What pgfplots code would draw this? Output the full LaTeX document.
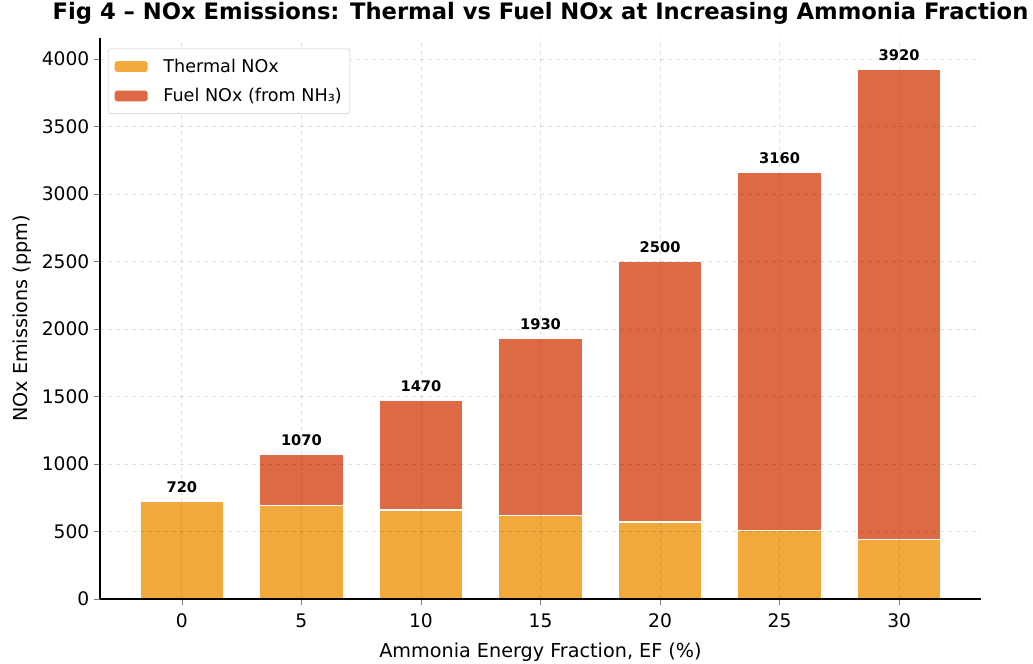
\documentclass[border=0pt]{standalone}
\usepackage{fontspec}
\setmainfont{DejaVu Sans}
\usepackage{pgfplots}
\pgfplotsset{compat=1.18}

\definecolor{thermal}{HTML}{F2A93B}
\definecolor{fuel}{HTML}{DD6A45}

\pgfplotsset{
  nox frame/.style={
    scale only axis,
    width=660.75pt, height=420.75pt,
    xmin=-3.425, xmax=33.425,
    ymin=0, ymax=4156,
  },
}

\begin{document}
\begin{tikzpicture}
\begin{axis}[
  name=main,
  nox frame,
  ybar stacked,
  bar width=3.5,
  axis x line*=bottom, axis y line*=left,
  axis line style={-, line width=0.8pt},
  tick align=outside,
  major tick length=4.5pt,
  xtick={0,5,10,15,20,25,30},
  ytick={0,500,...,4000},
  /pgf/number format/1000 sep={},
  /pgf/number format/assume math mode=true,
  tick label style={font=\fontsize{14}{16}\selectfont},
  xticklabel shift=3pt,
  grid=major,
  major grid style={dashed, black, opacity=0.12, line width=0.6pt},
  axis on top,
  title={\bfseries Fig 4 – NOx Emissions: Thermal vs Fuel NOx at Increasing Ammonia Fraction},
  title style={font=\fontsize{17}{20}\selectfont, at={(axis description cs:0.5,1.0303)}, anchor=center},
  xlabel={Ammonia Energy Fraction, EF (\%)},
  ylabel={NOx Emissions (ppm)},
  label style={font=\fontsize{14.4}{17}\selectfont},
  xlabel style={at={(axis description cs:0.5,-0.094)}, anchor=center},
  ylabel style={at={(axis description cs:-0.0885,0.5)}, anchor=center},
  legend style={at={(axis description cs:0.009,0.981)}, anchor=north west, draw=black!20, rounded corners=2pt,
    font=\fontsize{13.2}{16}\selectfont, row sep=6.5pt, inner xsep=4pt, inner ysep=5.5pt},
  legend cell align=left,
  legend image code/.code={\fill[#1] (0pt,-4.5pt) rectangle (25.5pt,4.5pt);},
]
% thermal NOx at each ammonia energy fraction
\addplot[fill=thermal, draw=white, line width=0.9pt] coordinates {
  (0,720) (5,690) (10,660) (15,620) (20,570) (25,510) (30,440)
};
\addlegendentry{\hspace{9pt}Thermal NOx}
% fuel NOx from the ammonia, stacked on top
\addplot[fill=fuel, draw=white, line width=0.9pt] coordinates {
  (0,0) (5,380) (10,810) (15,1310) (20,1930) (25,2650) (30,3480)
};
\addlegendentry{\hspace{9pt}Fuel NOx (from NH₃)}
\end{axis}
% total labels above each stack
\begin{axis}[nox frame, hide axis]
\addplot[draw=none, mark=none, point meta=explicit symbolic, nodes near coords,
  nodes near coords style={font=\fontsize{11}{13}\bfseries\selectfont, anchor=south, yshift=3pt}]
  coordinates {
  (0,720) [720] (5,1070) [1070] (10,1470) [1470] (15,1930) [1930]
  (20,2500) [2500] (25,3160) [3160] (30,3920) [3920]
};
\end{axis}
% page frame around the axis
\pgfresetboundingbox
\path ([shift={(-75pt,-48pt)}]main.south west) rectangle ([shift={(39pt,28.5pt)}]main.north east);
\end{tikzpicture}
\end{document}
